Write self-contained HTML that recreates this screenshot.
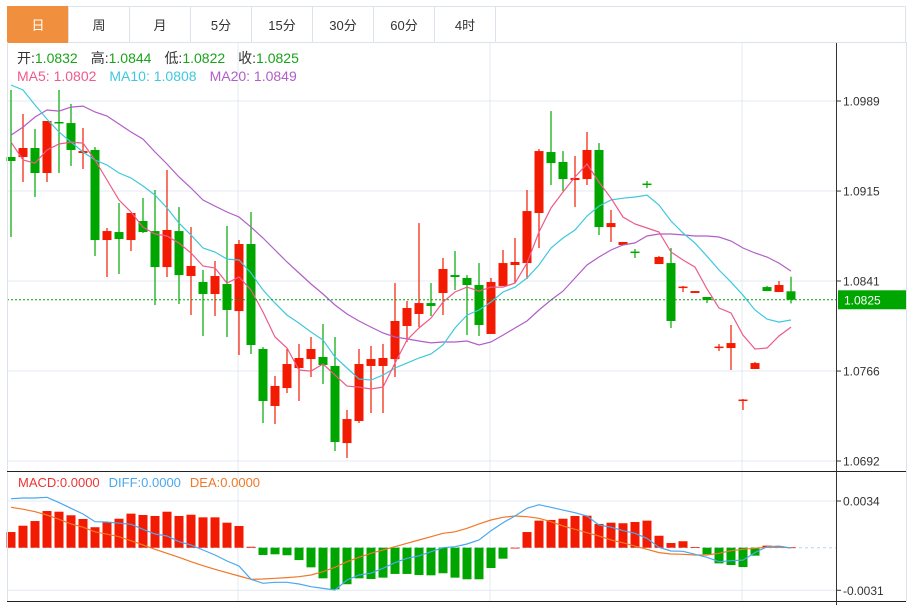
<!DOCTYPE html>
<html><head><meta charset="utf-8"><style>
body{margin:0;background:#fff;width:911px;height:605px;overflow:hidden;font-family:"Liberation Sans","Noto Sans CJK SC",sans-serif}
svg{display:block}
</style></head><body>
<svg id="chart" width="911" height="605" xmlns="http://www.w3.org/2000/svg" font-family="Liberation Sans, Noto Sans CJK SC, sans-serif">
<g id="tabs"></g>
<g id="grid"></g>
<g id="main"></g>
<g id="macd"></g>
<g id="axes"></g>
<g id="legend">
<text x="17" y="63" font-size="14"><tspan fill="#333">开:</tspan><tspan fill="#1aa31a">1.0832</tspan><tspan fill="#333" dx="13">高:</tspan><tspan fill="#1aa31a">1.0844</tspan><tspan fill="#333" dx="13">低:</tspan><tspan fill="#1aa31a">1.0822</tspan><tspan fill="#333" dx="13">收:</tspan><tspan fill="#1aa31a">1.0825</tspan></text>
<text x="17" y="81" font-size="14"><tspan fill="#ee5a8a">MA5: 1.0802</tspan><tspan fill="#3fc8dd" dx="13">MA10: 1.0808</tspan><tspan fill="#b05ec8" dx="13">MA20: 1.0849</tspan></text>
<text x="18" y="487" font-size="13"><tspan fill="#ee3333">MACD:0.0000</tspan><tspan fill="#4aa8ee" dx="9">DIFF:0.0000</tspan><tspan fill="#f07828" dx="9">DEA:0.0000</tspan></text>
</g>
</svg>
<script>
// ---- data ----
const opens  = [1.09428,1.09428,1.09502,1.09296,1.09717,1.09708,1.09461,1.09486,1.08743,1.08809,1.08743,1.08900,1.08817,1.08520,1.08817,1.08446,1.08397,1.08298,1.08380,1.08157,1.08710,1.07844,1.07374,1.07522,1.07687,1.07761,1.07778,1.07704,1.07068,1.07250,1.07704,1.07704,1.07761,1.08034,1.08133,1.08223,1.08306,1.08454,1.08430,1.08372,1.07968,1.08364,1.08537,1.08553,1.08966,1.09469,1.09387,1.09238,1.09246,1.09486,1.08850,1.08702,1.08648,1.09209,1.08545,1.08553,1.08351,1.08306,1.08273,1.07856,1.07852,1.07419,1.07679,1.08355,1.08314,1.0832];
const closes = [1.09395,1.09502,1.09296,1.09725,1.09713,1.09486,1.09477,1.08743,1.08817,1.08751,1.08966,1.08809,1.08520,1.08826,1.08454,1.08529,1.08298,1.08446,1.08166,1.08710,1.07877,1.07415,1.07539,1.07720,1.07770,1.07844,1.07712,1.07077,1.07266,1.07720,1.07761,1.07770,1.08075,1.08182,1.08223,1.08199,1.08504,1.08438,1.08372,1.08042,1.08397,1.08553,1.08562,1.08982,1.09477,1.09378,1.09246,1.09255,1.09486,1.08850,1.08883,1.08727,1.08640,1.09201,1.08603,1.08075,1.08359,1.08322,1.08248,1.07864,1.07893,1.07427,1.07728,1.08322,1.08372,1.0825];
const highs  = [1.09981,1.09783,1.09659,1.09725,1.09981,1.09865,1.09667,1.09510,1.08842,1.09048,1.08966,1.09090,1.09156,1.09321,1.09015,1.08850,1.08496,1.08570,1.08859,1.08743,1.08974,1.07860,1.07621,1.07844,1.07885,1.07943,1.08050,1.07943,1.07341,1.07844,1.07869,1.07885,1.08388,1.08240,1.08883,1.08388,1.08595,1.08652,1.08454,1.08553,1.08430,1.08661,1.08760,1.09156,1.09494,1.09807,1.09477,1.09436,1.09634,1.09543,1.08991,1.08727,1.08669,1.09230,1.08611,1.08677,1.08364,1.08322,1.08273,1.07885,1.08042,1.07431,1.07737,1.08364,1.08405,1.0844];
const lows   = [1.08768,1.09222,1.09098,1.09222,1.09296,1.09354,1.09329,1.08611,1.08438,1.08463,1.08652,1.08801,1.08207,1.08438,1.08215,1.08124,1.07951,1.08116,1.07943,1.07794,1.07803,1.07233,1.07225,1.07481,1.07415,1.07613,1.07555,1.07002,1.06945,1.07233,1.07316,1.07316,1.07613,1.07902,1.08025,1.08116,1.08124,1.08331,1.07959,1.07951,1.07968,1.08364,1.08388,1.08421,1.08677,1.09197,1.09147,1.09015,1.09197,1.08784,1.08727,1.08702,1.08595,1.09172,1.08545,1.08017,1.08314,1.08306,1.08223,1.07827,1.07671,1.07341,1.07679,1.08322,1.08314,1.0822];
const ma5  = [1.09551,1.09403,1.09378,1.09486,1.09535,1.09551,1.09543,1.09403,1.09238,1.09073,1.08974,1.08850,1.08793,1.08776,1.08718,1.08636,1.08529,1.08512,1.08388,1.08438,1.08331,1.08149,1.07943,1.07852,1.07671,1.07662,1.07720,1.07629,1.07538,1.07530,1.07514,1.07530,1.07728,1.07918,1.08017,1.08099,1.08232,1.08314,1.08355,1.08322,1.08355,1.08355,1.08388,1.08553,1.08809,1.09007,1.09139,1.09263,1.09370,1.09221,1.09088,1.08933,1.08875,1.08842,1.08809,1.08644,1.08578,1.08520,1.08339,1.08182,1.08141,1.07959,1.07844,1.07852,1.07951,1.08025];
const ma10 = [1.10022,1.09981,1.09857,1.09741,1.09634,1.09551,1.09469,1.09403,1.09362,1.09296,1.09255,1.09189,1.09114,1.09007,1.08883,1.08784,1.08677,1.08644,1.08586,1.08578,1.08471,1.08331,1.08223,1.08124,1.08058,1.07984,1.07918,1.07778,1.07687,1.07596,1.07588,1.07629,1.07687,1.07728,1.07770,1.07803,1.07877,1.08017,1.08124,1.08166,1.08232,1.08314,1.08355,1.08430,1.08537,1.08677,1.08760,1.08826,1.08941,1.09023,1.09073,1.09088,1.09098,1.09114,1.09032,1.08900,1.08801,1.08718,1.08610,1.08496,1.08396,1.08288,1.08166,1.08091,1.08066,1.08083];
const ma20 = [1.09609,1.09675,1.09758,1.09816,1.09807,1.09840,1.09848,1.09799,1.09766,1.09700,1.09634,1.09576,1.09469,1.09370,1.09263,1.09172,1.09073,1.09023,1.08974,1.08933,1.08850,1.08760,1.08661,1.08562,1.08471,1.08380,1.08298,1.08207,1.08133,1.08075,1.08025,1.07976,1.07943,1.07927,1.07910,1.07894,1.07902,1.07902,1.07910,1.07877,1.07902,1.07959,1.08017,1.08075,1.08166,1.08248,1.08322,1.08430,1.08537,1.08603,1.08661,1.08702,1.08719,1.08776,1.08793,1.08793,1.08785,1.08776,1.08776,1.08768,1.08735,1.08677,1.08636,1.08603,1.08553,1.08487];
const macdHist = [11.4,16.0,19.4,26.7,26.2,23.6,20.9,14.9,18.7,21.1,24.8,23.8,23.1,26.2,23.1,24.0,22.1,22.1,18.2,15.8,0.7,-5.3,-4.8,-5.5,-9.0,-14.3,-22.3,-30.3,-26.6,-22.3,-22.8,-21.8,-19.1,-19.1,-19.9,-20.1,-18.6,-21.8,-23.0,-23.0,-14.8,-8.0,0,11.4,19.7,20.2,21.1,23.1,23.3,17.3,18.2,17.8,18.7,19.7,8.7,3.4,4.7,0.5,-4.8,-11.4,-12.6,-14.1,-5.8,1.5,1.2,0.3];
const diffLine = [35.7,36.2,36.2,36.7,32.8,28.7,24.5,18.9,18.7,17.8,17.0,13.4,10.0,8.5,4.4,2.0,-1.7,-5.3,-9.7,-13.3,-23.0,-25.9,-25.2,-25.2,-26.4,-28.4,-29.6,-30.8,-23.5,-19.9,-18.6,-15.0,-10.9,-7.7,-6.0,-2.9,0,0.7,2.7,5.6,12.4,18.2,23.1,28.7,31.3,29.4,27.4,25.5,23.1,16.5,14.9,12.4,10.5,6.8,0.3,-2.4,-2.6,-4.8,-7.0,-10.2,-9.5,-9.0,-3.6,0.7,1.2,-0.2];
const deaLine = [29.4,28.0,26.2,23.8,20.7,17.3,14.9,11.6,9.8,8.0,5.1,2.0,-1.2,-4.1,-7.0,-10.2,-13.1,-15.7,-18.2,-20.6,-23.0,-22.8,-22.3,-21.8,-21.1,-19.9,-17.5,-14.3,-10.2,-7.0,-4.1,-1.7,0.7,3.2,5.6,8.0,10.5,11.6,14.1,17.3,20.2,22.1,23.1,22.6,21.4,18.9,15.8,13.4,10.9,8.5,5.6,3.6,1.2,-1.2,-3.6,-4.6,-4.8,-5.3,-5.3,-4.1,-2.2,-1.2,-0.4,0.3,0.3,0];
const priceTicks = ["1.0989","1.0915","1.0841","1.0766","1.0692"];
const priceTickVals = [1.0989,1.09147,1.08405,1.07662,1.0692];
const macdTicks = ["0.0034","-0.0031"];
const macdTickVals = [34,-31];
const lastPrice = 1.0825;
const tabLabels = ["日","周","月","5分","15分","30分","60分","4时"];

// ---- scales ----
const NS='http://www.w3.org/2000/svg';
const xAt = i => 11 + 12*i;
const yP = p => 101 + (1.0989 - p) * (90/0.0074250);
const yM = v => 547.7 - v/0.728;
function mk(tag, attrs, parent){const e=document.createElementNS(NS,tag);for(const k in attrs)e.setAttribute(k,attrs[k]);parent.appendChild(e);return e;}
const RED='#f21a00', GREEN='#00a600';

// tabs
const tabs=document.getElementById('tabs');
mk('rect',{x:7.5,y:6.5,width:898,height:36,fill:'#fff',stroke:'#dde3ea'},tabs);
tabLabels.forEach((t,i)=>{
  const g=mk('g',{},tabs);
  
  
  const x=7+61*i;
  mk('rect',{x:x+0.5,y:6.5,width:61,height:36,fill:i===0?'#f0903e':'#fff',stroke:i===0?'#f0903e':'#dde3ea'},g);
  const tx=mk('text',{x:x+31,y:30,'text-anchor':'middle','font-size':13,fill:i===0?'#fff':'#333'},g);
  tx.textContent=t;
});

// grid
const grid=document.getElementById('grid');
priceTickVals.forEach(v=>mk('line',{x1:7,x2:836,y1:yP(v),y2:yP(v),stroke:'#e3e9f0'},grid));
macdTickVals.forEach(v=>mk('line',{x1:7,x2:836,y1:yM(v),y2:yM(v),stroke:'#e3e9f0'},grid));
[238,490,742].forEach(x=>mk('line',{x1:x,x2:x,y1:43,y2:601,stroke:'#e3e9f0'},grid));

// candles
const main=document.getElementById('main');
opens.forEach((o,i)=>{
  const c=closes[i], col=c>o?RED:GREEN, x=xAt(i);
  const g=mk('g',{},main);
  
  
  mk('line',{x1:x,x2:x,y1:yP(highs[i]),y2:yP(lows[i]),stroke:col,'stroke-width':1.2},g);
  const t=Math.min(yP(o),yP(c)),h=Math.max(1.5,Math.abs(yP(o)-yP(c)));
  mk('rect',{x:x-4.5,y:t,width:9,height:h,fill:col},g);
});
function line(arr,fy,col,parent,name){
  const p=mk('polyline',{points:arr.map((v,i)=>xAt(i)+','+fy(v).toFixed(1)).join(' '),fill:'none',stroke:col,'stroke-width':1.2},parent);
  
  
}
line(ma20,yP,'#b05ec8',main,'ma20-line');
line(ma10,yP,'#3fc8dd',main,'ma10-line');
line(ma5,yP,'#ee5a8a',main,'ma5-line');
mk('line',{x1:7,x2:836,y1:yP(lastPrice),y2:yP(lastPrice),stroke:'#00a600','stroke-dasharray':'2,2'},main);

// macd
const macd=document.getElementById('macd');
mk('line',{x1:7,x2:836,y1:yM(0),y2:yM(0),stroke:'#a8d8ee','stroke-dasharray':'3,3'},macd);
macdHist.forEach((v,i)=>{
  const y0=yM(0),y1=yM(v);
  const r=mk('rect',{x:xAt(i)-4.5,y:Math.min(y0,y1),width:9,height:Math.max(0.8,Math.abs(y1-y0)),fill:v>=0?RED:GREEN},macd);
  
  
});
line(deaLine,yM,'#f07828',macd,'dea-line');
line(diffLine,yM,'#4aa8ee',macd,'diff-line');

// axes
const ax=document.getElementById('axes');
mk('line',{x1:7.5,x2:7.5,y1:42,y2:601,stroke:'#dde3ea'},ax);
mk('line',{x1:906.5,x2:906.5,y1:42,y2:601,stroke:'#dde3ea'},ax);
mk('line',{x1:7,x2:906,y1:471.5,y2:471.5,stroke:'#222'},ax);
mk('line',{x1:7,x2:906,y1:601.5,y2:601.5,stroke:'#222'},ax);
mk('line',{x1:836.5,x2:836.5,y1:43,y2:605,stroke:'#333'},ax);
priceTickVals.forEach((v,i)=>{
  mk('line',{x1:836,x2:841,y1:yP(v),y2:yP(v),stroke:'#333'},ax);
  const t=mk('text',{x:843,y:yP(v)+4.5,'font-size':12,fill:'#333'},ax);
  
  
  t.textContent=priceTicks[i];
});
macdTickVals.forEach((v,i)=>{
  mk('line',{x1:836,x2:841,y1:yM(v),y2:yM(v),stroke:'#333'},ax);
  const t=mk('text',{x:843,y:yM(v)+4.5,'font-size':12,fill:'#333'},ax);
  
  
  t.textContent=macdTicks[i];
});
const lp=mk('g',{},ax);


mk('rect',{x:838,y:yP(lastPrice)-9.5,width:68,height:19,fill:'#00a600'},lp);
const lt=mk('text',{x:844,y:yP(lastPrice)+4.5,'font-size':12,fill:'#fff'},lp);
lt.textContent=lastPrice.toFixed(4);
</script>
</body></html>
